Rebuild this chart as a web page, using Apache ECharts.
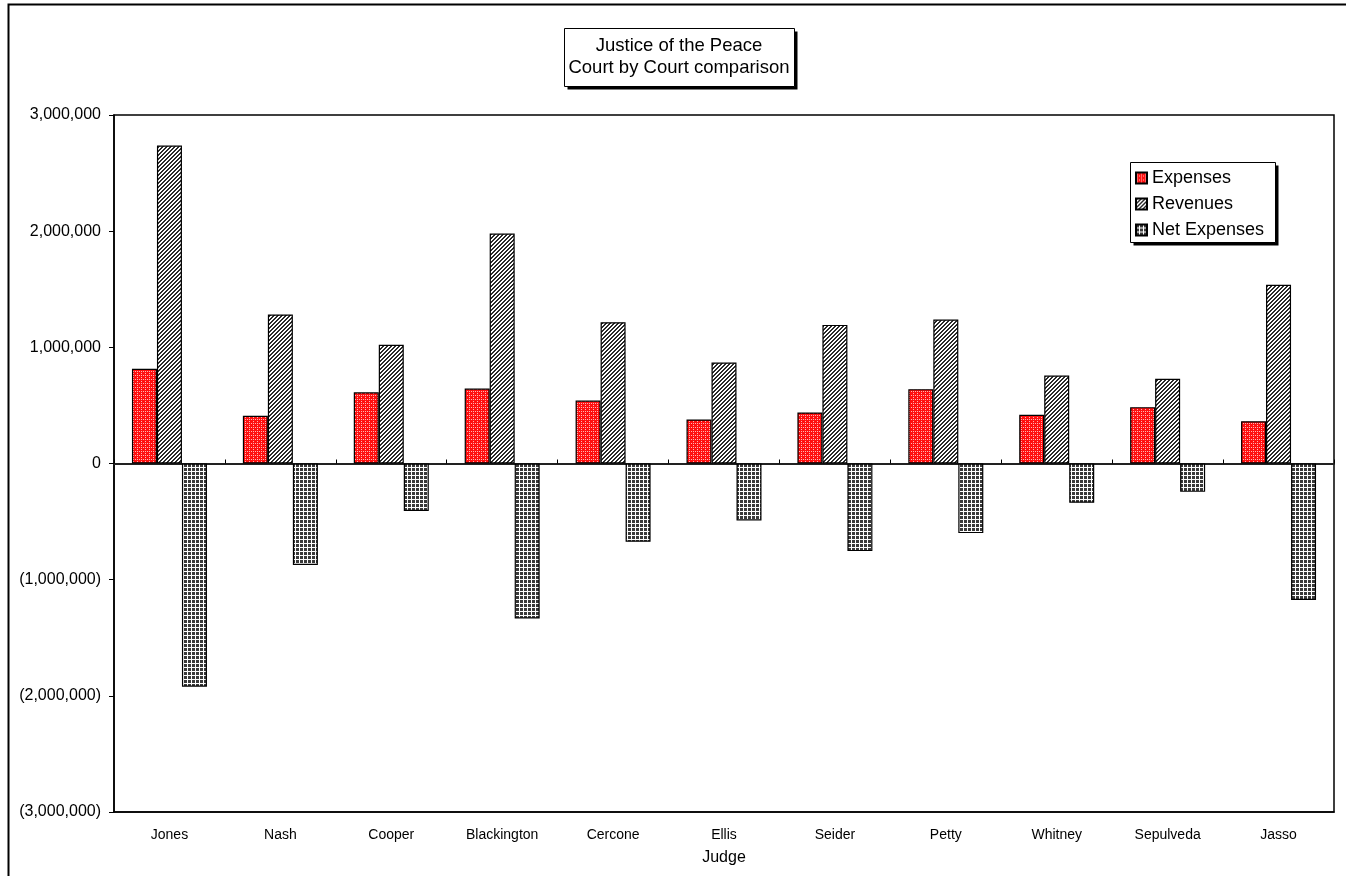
<!DOCTYPE html>
<html>
<head>
<meta charset="utf-8">
<script src="https://cdn.jsdelivr.net/npm/echarts@6/dist/echarts.min.js"></script>
<style>
html,body{margin:0;padding:0;background:#fff;}
#chart{width:1346px;height:876px;}
</style>
</head>
<body>
<div id="chart"></div>
<script>
// ---- data ----
const judges = ['Jones','Nash','Cooper','Blackington','Cercone','Ellis','Seider','Petty','Whitney','Sepulveda','Jasso'];
const expenses = [816000, 410000, 613000, 645000, 542000, 379000, 439000, 640000, 419000, 485000, 364000];
const revenues = [2737000, 1283000, 1022000, 1979000, 1216000, 869000, 1193000, 1239000, 757000, 729000, 1538000];
const netExpenses = [-1921000, -873000, -409000, -1334000, -674000, -490000, -754000, -599000, -338000, -244000, -1174000];
const seriesNames = ['Expenses', 'Revenues', 'Net Expenses'];
const titleLines = ['Justice of the Peace', 'Court by Court comparison'];
const yMin = -3000000, yMax = 3000000, yStep = 1000000;

// ---- patterns ----
function makeTile(size, bg, fg, fn) {
  const c = document.createElement('canvas');
  c.width = size; c.height = size;
  const ctx = c.getContext('2d');
  ctx.fillStyle = bg; ctx.fillRect(0, 0, size, size);
  ctx.fillStyle = fg;
  for (let x = 0; x < size; x++) for (let y = 0; y < size; y++) if (fn(x, y)) ctx.fillRect(x, y, 1, 1);
  return c;
}
const redTile = makeTile(4, '#ff1010', '#ffb4b4', (x, y) => (x === 1 && y === 1) || (x === 3 && y === 3) || (x === 1 && y === 3));
const hatchTile = makeTile(4, '#ffffff', '#2a2a2a', (x, y) => ((x + y) % 4 === 0) || ((x + y) % 4 === 1));
const gridTile = makeTile(4, '#3a3a3a', '#ffffff', (x, y) => x === 3 || y === 3);
const pat = t => ({ image: t, repeat: 'repeat' });

const FONT = '"Liberation Sans", Arial, sans-serif';
function fmt(v) {
  const s = Math.abs(v).toLocaleString('en-US');
  return v < 0 ? '(' + s + ')' : s;
}

function shadowBox(x, y, w, h) {
  return [
    { type: 'rect', shape: { x: x + 3, y: y + 3, width: w, height: h }, style: { fill: '#000' }, silent: true, z: 1 },
    { type: 'rect', shape: { x: x, y: y, width: w, height: h }, style: { fill: '#fff', stroke: '#000', lineWidth: 1 }, silent: true, z: 2 }
  ];
}

const chart = echarts.init(document.getElementById('chart'), null, { renderer: 'canvas' });
const barStyle = (tile) => ({ color: pat(tile), borderColor: '#000', borderWidth: 1.2 });

chart.setOption({
  backgroundColor: '#fff',
  animation: false,
  textStyle: { fontFamily: FONT, color: '#000' },
  title: {
    text: titleLines.join('\n'),
    left: 679, top: 35,
    textAlign: 'center',
    padding: 0,
    z: 10,
    textStyle: { fontFamily: FONT, fontSize: 18.5, fontWeight: 'normal', color: '#000', lineHeight: 22 }
  },
  legend: {
    data: seriesNames,
    orient: 'vertical',
    left: 1135, top: 169,
    padding: 0,
    itemGap: 8,
    itemWidth: 11, itemHeight: 11,
    icon: 'rect',
    z: 10,
    textStyle: { fontFamily: FONT, fontSize: 18, lineHeight: 18, color: '#000' }
  },
  graphic: [
    { type: 'rect', shape: { x: 8.5, y: 4.5, width: 1345, height: 880 }, style: { fill: 'none', stroke: '#000', lineWidth: 2 }, silent: true, z: 100 }
  ].concat(shadowBox(564.5, 28.5, 230, 58)).concat(shadowBox(1130.5, 162.5, 145, 80)),
  grid: {
    left: 114, top: 115, right: 12, bottom: 64,
    show: true, borderColor: '#000', borderWidth: 1.5, backgroundColor: 'transparent'
  },
  xAxis: [
    {
      type: 'category', data: judges, position: 'bottom',
      axisLine: { show: true, onZero: false, lineStyle: { color: '#000', width: 1.5 } },
      axisTick: { show: false },
      axisLabel: { fontFamily: FONT, fontSize: 14, color: '#000', margin: 16, interval: 0 },
      name: 'Judge', nameLocation: 'middle', nameGap: 38,
      nameTextStyle: { fontFamily: FONT, fontSize: 16, color: '#000' }
    },
    {
      type: 'category', data: judges, position: 'top',
      axisLine: { show: true, onZero: true, lineStyle: { color: '#222', width: 2 } },
      axisTick: { show: true, inside: false, length: 4, interval: 0, lineStyle: { color: '#000', width: 1 } },
      axisLabel: { show: false }
    }
  ],
  yAxis: {
    type: 'value', min: yMin, max: yMax, interval: yStep,
    axisLine: { show: true, lineStyle: { color: '#000', width: 1.5 } },
    axisTick: { show: true, length: 5, lineStyle: { color: '#000' } },
    splitLine: { show: false },
    axisLabel: { fontFamily: FONT, fontSize: 16, color: '#000', margin: 13, formatter: fmt }
  },
  series: [
    { name: seriesNames[0], type: 'bar', data: expenses, barWidth: 25, barGap: '0%', itemStyle: barStyle(redTile), z: 3 },
    { name: seriesNames[1], type: 'bar', data: revenues, barWidth: 25, barGap: '0%', itemStyle: barStyle(hatchTile), z: 3 },
    { name: seriesNames[2], type: 'bar', data: netExpenses, barWidth: 25, barGap: '0%', itemStyle: barStyle(gridTile), z: 3 }
  ]
});
</script>
</body>
</html>
